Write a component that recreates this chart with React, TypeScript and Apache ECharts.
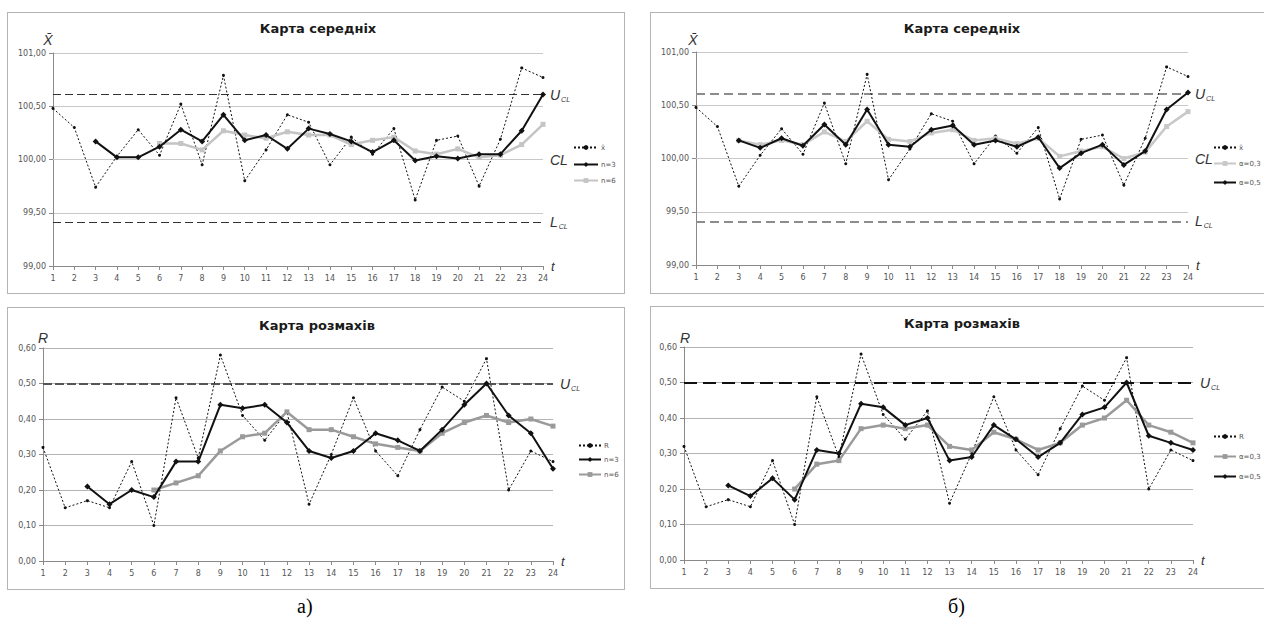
import React, { useEffect, useRef } from 'react';
import * as echarts from 'echarts';

// ---------- data ----------
const periods = ['1','2','3','4','5','6','7','8','9','10','11','12','13','14','15','16','17','18','19','20','21','22','23','24'];

const xbar = [100.48,100.30,99.74,100.03,100.28,100.04,100.52,99.95,100.79,99.80,100.09,100.42,100.35,99.95,100.21,100.05,100.29,99.62,100.18,100.22,99.75,100.19,100.86,100.77];
const xbarN3 = [null,null,100.17,100.02,100.02,100.12,100.28,100.17,100.42,100.18,100.23,100.10,100.29,100.24,100.17,100.07,100.18,99.99,100.03,100.01,100.05,100.05,100.27,100.61];
const xbarN6 = [null,null,null,null,null,100.15,100.15,100.09,100.27,100.23,100.20,100.26,100.23,100.23,100.14,100.18,100.21,100.08,100.05,100.10,100.02,100.04,100.14,100.33];
const xbarA3 = [null,null,100.17,100.13,100.17,100.13,100.25,100.16,100.35,100.18,100.16,100.24,100.27,100.17,100.19,100.14,100.19,100.02,100.07,100.11,100.00,100.06,100.30,100.44];
const xbarA5 = [null,null,100.17,100.10,100.19,100.12,100.32,100.13,100.46,100.13,100.11,100.27,100.31,100.13,100.17,100.11,100.20,99.91,100.05,100.13,99.94,100.07,100.46,100.62];

const range = [0.32,0.15,0.17,0.15,0.28,0.10,0.46,0.29,0.58,0.41,0.34,0.42,0.16,0.30,0.46,0.31,0.24,0.37,0.49,0.45,0.57,0.20,0.31,0.28];
const rangeN3 = [null,null,0.21,0.16,0.20,0.18,0.28,0.28,0.44,0.43,0.44,0.39,0.31,0.29,0.31,0.36,0.34,0.31,0.37,0.44,0.50,0.41,0.36,0.26];
const rangeN6 = [null,null,null,null,null,0.20,0.22,0.24,0.31,0.35,0.36,0.42,0.37,0.37,0.35,0.33,0.32,0.31,0.36,0.39,0.41,0.39,0.40,0.38];
const rangeA3 = [null,null,null,null,null,0.20,0.27,0.28,0.37,0.38,0.37,0.38,0.32,0.31,0.36,0.34,0.31,0.33,0.38,0.40,0.45,0.38,0.36,0.33];
const rangeA5 = [null,null,0.21,0.18,0.23,0.17,0.31,0.30,0.44,0.43,0.38,0.40,0.28,0.29,0.38,0.34,0.29,0.33,0.41,0.43,0.50,0.35,0.33,0.31];

const xUCL = 100.61;
const xCL = 100.0;
const xLCL = 99.41;
const rUCL = 0.5;

const titleMeans = 'Карта середніх';
const titleRanges = 'Карта розмахів';

// ---------- styling ----------
const FONT = "'DejaVu Sans', sans-serif";
const ITAL = "'Liberation Sans', Arial, sans-serif";

const richLabel = {
  u: { fontSize: 14, fontStyle: 'italic', color: '#333', fontFamily: ITAL, lineHeight: 16 },
  s: { fontSize: 7, fontStyle: 'italic', color: '#333', fontFamily: ITAL, lineHeight: 16, verticalAlign: 'bottom', padding: [4, 0, 0, 1] },
};

function limitItem(value: number, text: string, line: any) {
  return {
    yAxis: value,
    lineStyle: line,
    label: { show: true, position: 'end', distance: 7, formatter: text, rich: richLabel },
  };
}

type SeriesCfg = { name: string; data: any[]; color: string; width: number; dash?: any; symbol: string; size: number; z: number };

function buildOption(cfg: any) {
  const series = cfg.series.map((s: SeriesCfg, i: number) => ({
    type: 'line',
    name: s.name,
    data: s.data,
    symbol: s.symbol,
    symbolSize: s.size,
    showSymbol: true,
    z: s.z,
    lineStyle: { color: s.color, width: s.width, type: s.dash || 'solid' },
    itemStyle: { color: s.color },
    emphasis: { disabled: true },
    markLine: i === 0 ? { symbol: ['none', 'none'], silent: true, animation: false, data: cfg.limits, z: 1 } : undefined,
  }));
  const legends = cfg.series.map((s: SeriesCfg, i: number) => ({
    data: [s.name],
    orient: 'vertical',
    left: cfg.legendLeft,
    top: cfg.legendRows[i] - 4,
    itemWidth: cfg.legendItemWidth,
    itemHeight: 6,
    selectedMode: false,
    textStyle: { fontSize: 7, color: '#555', fontFamily: FONT, padding: [0, 0, 0, -2] },
  }));
  return {
    animation: false,
    backgroundColor: '#fff',
    grid: cfg.grid,
    legend: legends,
    xAxis: {
      type: 'category',
      data: periods,
      boundaryGap: false,
      name: 't',
      nameLocation: 'end',
      nameGap: 8,
      nameTextStyle: { fontSize: 13, fontStyle: 'italic', color: '#333', fontFamily: ITAL, verticalAlign: 'middle', padding: [0, 0, 4, 0] },
      axisLine: { lineStyle: { color: '#8a8a8a' } },
      axisTick: { show: true, inside: false, length: 4, interval: 0, lineStyle: { color: '#8a8a8a' } },
      axisLabel: { interval: 0, fontSize: 8, color: '#555', fontFamily: FONT, margin: 8 },
      splitLine: { show: false },
    },
    yAxis: {
      type: 'value',
      min: cfg.yMin,
      max: cfg.yMax,
      interval: cfg.yInterval,
      axisLine: { show: true, lineStyle: { color: '#8a8a8a' } },
      axisTick: { show: true, length: 4, lineStyle: { color: '#8a8a8a' } },
      axisLabel: { fontSize: 8, color: '#555', fontFamily: FONT, margin: 7, formatter: (v: number) => v.toFixed(2).replace('.', ',') },
      splitLine: { show: true, lineStyle: { color: cfg.splitColor, width: 1 } },
    },
    graphic: [
      { type: 'text', x: cfg.titlePos[0], y: cfg.titlePos[1], style: { text: cfg.title, font: `bold 13px ${FONT}`, fill: '#1a1a1a', textAlign: 'center', textVerticalAlign: 'middle' } },
      { type: 'text', x: cfg.yNamePos[0], y: cfg.yNamePos[1], style: { text: cfg.yName, font: `italic 14px ${ITAL}`, fill: '#333', textAlign: 'center', textVerticalAlign: 'middle' } },
    ],
    series,
  };
}

const panels = [
  {
    box: { left: 7, top: 12, width: 618, height: 282 },
    option: {
      grid: { left: 46, top: 41, width: 490, height: 213 },
      yMin: 99, yMax: 101, yInterval: 0.5, splitColor: '#c8c8c8',
      title: titleMeans, titlePos: [311, 16], yName: 'X\u0304', yNamePos: [41, 28],
      legendLeft: 561, legendItemWidth: 24, legendRows: [131, 148, 164],
      series: [
        { name: 'x\u0304', data: xbar, color: '#111', width: 1, dash: [2, 2], symbol: 'circle', size: 3, z: 3 },
        { name: 'n=3', data: xbarN3, color: '#111', width: 2, symbol: 'diamond', size: 6, z: 5 },
        { name: 'n=6', data: xbarN6, color: '#c4c4c4', width: 2.5, symbol: 'rect', size: 5, z: 4 },
      ],
      limits: [
        limitItem(xUCL, '{u|U}{s|CL}', { color: '#333', width: 1.2, type: [8, 4] }),
        limitItem(xCL, '{u|CL}', { color: '#c8c8c8', width: 1, type: 'solid' }),
        limitItem(xLCL, '{u|L}{s|CL}', { color: '#333', width: 1.2, type: [8, 4] }),
      ],
    },
  },
  {
    box: { left: 650, top: 12, width: 630, height: 282 },
    option: {
      grid: { left: 46, top: 40, width: 492, height: 213 },
      yMin: 99, yMax: 101, yInterval: 0.5, splitColor: '#c8c8c8',
      title: titleMeans, titlePos: [312, 16], yName: 'X\u0304', yNamePos: [43, 28],
      legendLeft: 558, legendItemWidth: 22, legendRows: [131, 147, 166],
      series: [
        { name: 'x\u0304', data: xbar, color: '#111', width: 1, dash: [2, 2], symbol: 'circle', size: 3, z: 3 },
        { name: 'α=0,3', data: xbarA3, color: '#c8c8c8', width: 2.5, symbol: 'rect', size: 5, z: 4 },
        { name: 'α=0,5', data: xbarA5, color: '#111', width: 2, symbol: 'diamond', size: 6, z: 5 },
      ],
      limits: [
        limitItem(xUCL, '{u|U}{s|CL}', { color: '#8c8c8c', width: 2, type: [9, 5] }),
        limitItem(xCL, '{u|CL}', { color: '#c8c8c8', width: 1, type: 'solid' }),
        limitItem(xLCL, '{u|L}{s|CL}', { color: '#8c8c8c', width: 2, type: [9, 5] }),
      ],
    },
  },
  {
    box: { left: 7, top: 307, width: 618, height: 283 },
    option: {
      grid: { left: 36, top: 41, width: 510, height: 213 },
      yMin: 0, yMax: 0.6, yInterval: 0.1, splitColor: '#b4b4b4',
      title: titleRanges, titlePos: [310, 18], yName: 'R', yNamePos: [36, 31],
      legendLeft: 566, legendItemWidth: 22, legendRows: [134, 148, 163],
      series: [
        { name: 'R', data: range, color: '#111', width: 1, dash: [2, 2], symbol: 'circle', size: 3, z: 3 },
        { name: 'n=3', data: rangeN3, color: '#111', width: 2, symbol: 'diamond', size: 6, z: 5 },
        { name: 'n=6', data: rangeN6, color: '#9a9a9a', width: 2.5, symbol: 'rect', size: 5, z: 4 },
      ],
      limits: [
        limitItem(rUCL, '{u|U}{s|CL}', { color: '#555', width: 2, type: [9, 3] }),
      ],
    },
  },
  {
    box: { left: 650, top: 306, width: 630, height: 283 },
    option: {
      grid: { left: 34, top: 41, width: 509, height: 213 },
      yMin: 0, yMax: 0.6, yInterval: 0.1, splitColor: '#b4b4b4',
      title: titleRanges, titlePos: [312, 17], yName: 'R', yNamePos: [35, 32],
      legendLeft: 558, legendItemWidth: 22, legendRows: [126, 146, 166],
      series: [
        { name: 'R', data: range, color: '#111', width: 1, dash: [2, 2], symbol: 'circle', size: 3, z: 3 },
        { name: 'α=0,3', data: rangeA3, color: '#9a9a9a', width: 2.5, symbol: 'rect', size: 5, z: 4 },
        { name: 'α=0,5', data: rangeA5, color: '#111', width: 2, symbol: 'diamond', size: 6, z: 5 },
      ],
      limits: [
        limitItem(rUCL, '{u|U}{s|CL}', { color: '#111', width: 2.2, type: [13, 6] }),
      ],
    },
  },
];

function Panel({ box, option }: any) {
  const ref = useRef<HTMLDivElement>(null);
  useEffect(() => {
    if (!ref.current) return;
    const chart = echarts.init(ref.current, undefined, { renderer: 'svg' });
    chart.setOption(buildOption(option));
    return () => chart.dispose();
  }, []);
  return (
    <div style={{ position: 'absolute', left: box.left, top: box.top, width: box.width, height: box.height, overflow: 'hidden' }}>
      <div ref={ref} style={{ position: 'absolute', left: 0, top: 0, width: box.width, height: box.height }} />
      <div style={{ position: 'absolute', left: 0, top: 0, width: box.width, height: box.height, border: '1px solid #b4b4b4', boxSizing: 'border-box', pointerEvents: 'none' }} />
    </div>
  );
}

export default function App() {
  return (
    <div style={{ position: 'absolute', left: 0, top: 0, width: 1264, height: 621, overflow: 'hidden', background: '#fff' }}>
      {panels.map((p, i) => <Panel key={i} box={p.box} option={p.option} />)}
      <div style={{ position: 'absolute', left: 297, top: 594, fontFamily: "'Liberation Serif', serif", fontSize: 20, color: '#000', lineHeight: '24px' }}>а)</div>
      <div style={{ position: 'absolute', left: 948, top: 594, fontFamily: "'Liberation Serif', serif", fontSize: 20, color: '#000', lineHeight: '24px' }}>б)</div>
    </div>
  );
}
